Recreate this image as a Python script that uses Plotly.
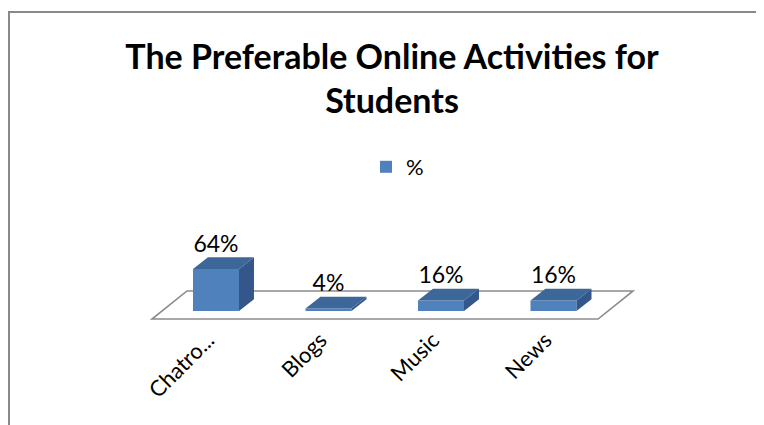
import plotly.graph_objects as go

# ---- data ----
categories = ["Chatro...", "Blogs", "Music", "News"]
values = [64, 4, 16, 16]
label_text = ["64%", "4%", "16%", "16%"]
series_name = "%"
title_text = "The Preferable Online Activities for<br>Students"

# ---- styling constants (3D look) ----
FRONT = "#4F81BD"
TOP = "#3E6799"
SIDE = "#33578A"
BAR_W = 0.409
BAR_DX = 0.133
BAR_DY = 17.8
FLOOR_FRONT_Y = -12.2
FLOOR_BACK_Y = 30.5
FLOOR_LEFT = -0.569
FLOOR_RIGHT_PAD = 0.396
FLOOR_DX = 0.311
FONT = "Lato"

# page has an 8px body margin: screen = figure + OFF
OFF = 8
W, H = 764 - OFF, 425 - OFF
# plot area in screen px
SL, SR, ST, SB = 100, 700, 180, 322
L, R, T, B = SL - OFF, W - (SR - OFF), ST - OFF, H - (SB - OFF)
PW, PH = SR - SL, SB - ST
XU = 112.5          # px per category
YU = 0.65625        # px per percent
x0 = -(216 - SL) / XU
x1 = x0 + PW / XU
y0 = -(SB - 311) / YU
y1 = y0 + PH / YU

xs = list(range(len(categories)))
fig = go.Figure()

# side and top faces
for xc, v in zip(xs, values):
    xl, xr = xc - BAR_W / 2, xc + BAR_W / 2
    fig.add_trace(go.Scatter(
        x=[xr, xr + BAR_DX, xr + BAR_DX, xr, xr],
        y=[0, BAR_DY, v + BAR_DY, v, 0],
        mode="lines", fill="toself", fillcolor=SIDE, line=dict(width=0, color=SIDE),
        showlegend=False, hoverinfo="skip", cliponaxis=False))
    fig.add_trace(go.Scatter(
        x=[xl, xr, xr + BAR_DX, xl + BAR_DX, xl],
        y=[v, v, v + BAR_DY, v + BAR_DY, v],
        mode="lines", fill="toself", fillcolor=TOP, line=dict(width=0, color=TOP),
        showlegend=False, hoverinfo="skip", cliponaxis=False))

# data labels
fig.add_trace(go.Scatter(
    x=xs, y=[v + BAR_DY for v in values], mode="text", text=label_text,
    textposition="top center", textfont=dict(family=FONT, size=23, color="#000000"),
    showlegend=False, hoverinfo="skip", cliponaxis=False))

# front faces
fig.add_trace(go.Bar(
    x=xs, y=values, width=BAR_W, name=series_name,
    marker=dict(color=FRONT, line=dict(width=0))))

# floor (below traces)
n = len(categories)
fl, fr = FLOOR_LEFT, (n - 1) + FLOOR_RIGHT_PAD
floor_pts = [(fl, FLOOR_FRONT_Y), (fr, FLOOR_FRONT_Y),
             (fr + FLOOR_DX, FLOOR_BACK_Y), (fl + FLOOR_DX, FLOOR_BACK_Y)]
floor_path = "M " + " L ".join(f"{px},{py}" for px, py in floor_pts) + " Z"

fig.update_layout(
    width=W, height=H,
    margin=dict(l=L, r=R, t=T, b=B, autoexpand=False),
    paper_bgcolor="white", plot_bgcolor="white",
    barmode="overlay",
    title=dict(text=title_text, x=(392 - OFF) / W, xanchor="center", xref="container",
               y=1 - 61 / H, yanchor="top", yref="container",
               font=dict(family=FONT, size=34, color="#000000", weight="bold")),
    showlegend=True,
    legend=dict(orientation="h", xref="container", yref="container",
                x=(366 - OFF) / W, xanchor="left", y=1 - (167 - OFF) / H, yanchor="middle",
                font=dict(family=FONT, size=22, color="#000000"),
                bgcolor="rgba(0,0,0,0)"),
    xaxis=dict(range=[x0, x1], tickvals=xs, ticktext=categories, tickangle=-45,
               showgrid=False, zeroline=False, showline=False, ticks="",
               automargin=False, ticklabelshift=-8,
               tickfont=dict(family=FONT, size=22, color="#000000"), fixedrange=True),
    yaxis=dict(range=[y0, y1], showgrid=False, zeroline=False, showline=False,
               automargin=False,
               showticklabels=False, ticks="", fixedrange=True),
    shapes=[
        dict(type="path", xref="x", yref="y", path=floor_path,
             line=dict(color="#8C8C8C", width=1.6), fillcolor="white", layer="below"),
        dict(type="rect", xref="paper", yref="paper",
             x0=(9 - SL) / PW, x1=(775 - SL) / PW,
             y0=(SB - 445) / PH, y1=(SB - 12) / PH,
             line=dict(color="#898989", width=2), fillcolor="rgba(0,0,0,0)",
             layer="below")],
)

fig.write_html("out.html")
